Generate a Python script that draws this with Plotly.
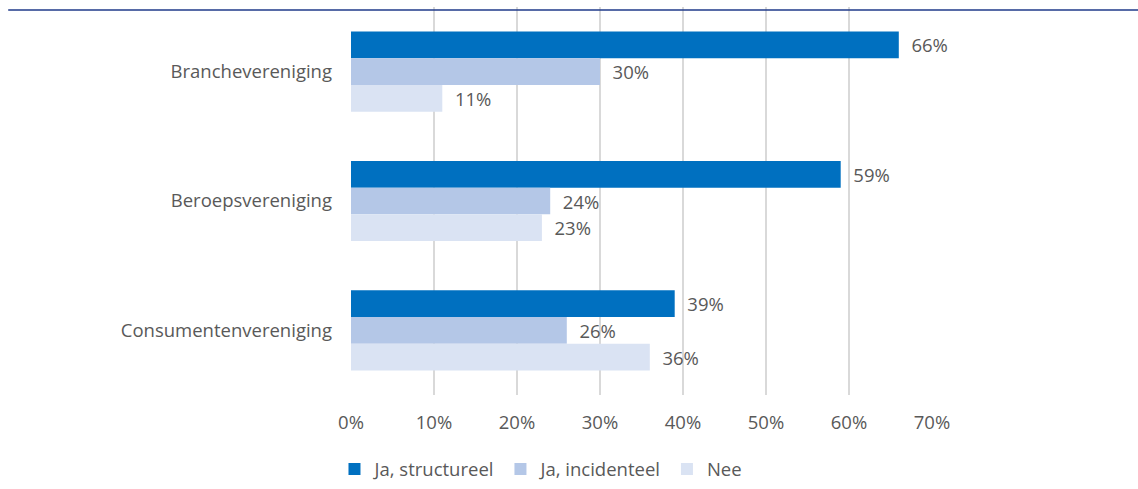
import plotly.graph_objects as go

categories = ["Branchevereniging", "Beroepsvereniging", "Consumentenvereniging"]
series_names = ["Ja, structureel", "Ja, incidenteel", "Nee"]
structureel = [66, 59, 39]
incidenteel = [30, 24, 26]
nee = [11, 23, 36]
tick_vals = [0, 10, 20, 30, 40, 50, 60, 70]
tick_text = ["0%", "10%", "20%", "30%", "40%", "50%", "60%", "70%"]

colors = ["#0070C0", "#B4C7E7", "#DAE3F3"]
font_family = "Open Sans"
grey = "#595959"
fsize = 18.5

fig = go.Figure()
for name, vals, col in zip(series_names, [structureel, incidenteel, nee], colors):
    fig.add_trace(go.Bar(
        y=categories, x=vals, name=name, orientation="h",
        marker=dict(color=col, line=dict(width=0)),
        text=[f"  {v}%" for v in vals], textposition="outside",
        textfont=dict(family=font_family, size=fsize, color=grey),
        cliponaxis=False,
    ))

fig.update_layout(
    width=1138, height=489,
    margin=dict(l=351, r=206, t=7, b=94),
    paper_bgcolor="white", plot_bgcolor="white",
    barmode="group", bargap=0.38, bargroupgap=0,
    font=dict(family=font_family, size=fsize, color=grey),
    xaxis=dict(range=[0, 70], tickvals=tick_vals, ticktext=tick_text,
               showgrid=True, gridcolor="#D9D9D9", gridwidth=1.5,
               zeroline=False, showline=False, ticks="",
               ticklabelstandoff=14, automargin=False,
               tickfont=dict(family=font_family, size=fsize, color=grey)),
    yaxis=dict(categoryorder="array", categoryarray=categories,
               autorange="reversed", showgrid=False, zeroline=False,
               ticks="", ticklen=0, ticklabelstandoff=18, automargin=False,
               tickfont=dict(family=font_family, size=fsize, color=grey)),
    legend=dict(orientation="h", x=0.327, xanchor="center",
                yref="container", y=0.04, yanchor="middle",
                font=dict(family=font_family, size=fsize, color=grey),
                itemwidth=30, traceorder="normal"),
    showlegend=True,
)

# Thin rule across the top of the page
fig.add_shape(type="line", xref="paper", yref="paper",
              x0=-0.59, x1=1.36, y0=0.992, y1=0.992,
              line=dict(color="#1F3A8A", width=1.5))

fig.write_html("out.html")
